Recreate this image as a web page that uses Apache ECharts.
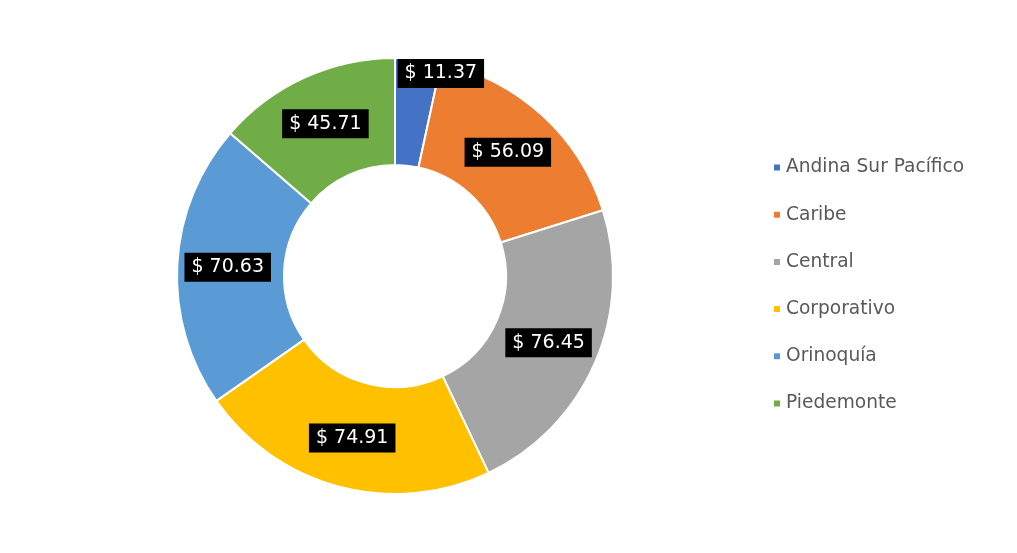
<!DOCTYPE html>
<html>
<head>
<meta charset="utf-8">
<script src="https://cdn.jsdelivr.net/npm/echarts@6/dist/echarts.min.js"></script>
<style>
  html, body { margin: 0; padding: 0; background: #fff; }
  #container { width: 1017px; height: 553px; }
</style>
</head>
<body>
<div id="container"></div>
<script>
const regiones = ['Andina Sur Pacífico', 'Caribe', 'Central', 'Corporativo', 'Orinoquía', 'Piedemonte'];
const valores = [11.37, 56.09, 76.45, 74.91, 70.63, 45.71];
const colores = ['#4472C4', '#ED7D31', '#A5A5A5', '#FFC000', '#5B9BD5', '#70AD47'];

const chart = echarts.init(document.getElementById('container'));

const datos = regiones.map(function (nombre, i) {
  const item = { name: nombre, value: valores[i], itemStyle: { color: colores[i] } };
  // etiqueta del sector pequeño desplazada hacia fuera, como en el original
  if (i === 0) {
    item.label = { offset: [28, -36] };
  }
  return item;
});

const opcion = {
  backgroundColor: '#fff',
  animation: false,
  legend: {
    orient: 'vertical',
    left: 772,
    top: 158,
    padding: 0,
    icon: 'rect',
    itemWidth: 8,
    itemHeight: 8,
    itemGap: 28.2,
    textStyle: {
      color: '#595959',
      fontFamily: 'Verdana, "DejaVu Sans", sans-serif',
      fontSize: 18.6,
      lineHeight: 18
    },
    data: regiones
  },
  series: [{
    type: 'pie',
    center: [395, 276],
    radius: [111, 218],
    startAngle: 90,
    clockwise: true,
    avoidLabelOverlap: false,
    itemStyle: {
      borderColor: '#fff',
      borderWidth: 2
    },
    label: {
      show: true,
      position: 'inside',
      formatter: function (p) { return '$ ' + p.value.toFixed(2); },
      color: '#fff',
      backgroundColor: '#000',
      fontFamily: 'Verdana, "DejaVu Sans", sans-serif',
      fontSize: 19,
      lineHeight: 21,
      padding: [4, 7, 4, 7]
    },
    labelLine: { show: false },
    emphasis: { disabled: true },
    data: datos
  }]
};

chart.setOption(opcion);
</script>
</body>
</html>
